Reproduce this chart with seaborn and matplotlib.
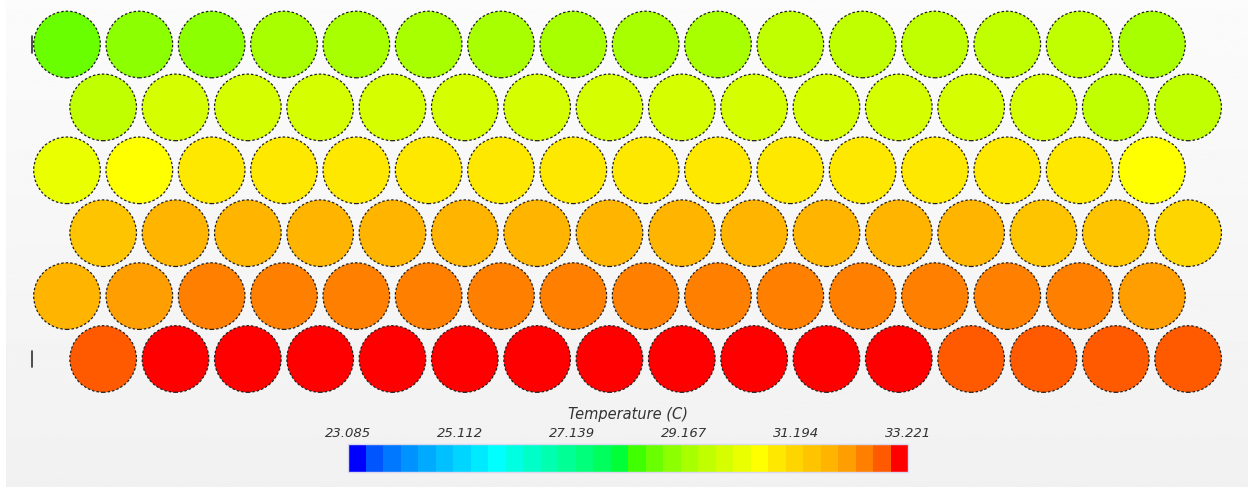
# temperature contour of a cell pack (16 cells x 6 rows) - rebuilt with seaborn
import matplotlib
matplotlib.use("Agg")
import matplotlib.pyplot as plt
import numpy as np
import pandas as pd
import seaborn as sns
from matplotlib.colors import ListedColormap, BoundaryNorm

# colour scale of the contour plot
t_min = 23.085
t_max = 33.221
n_bands = 32
tick_labels = ["23.085", "25.112", "27.139", "29.167", "31.194", "33.221"]

# cell temperatures (C), top row first, 16 cells per row
row1 = [28.63, 28.94, 28.94, 29.26, 29.26, 29.26, 29.26, 29.26, 29.26, 29.26, 29.58, 29.58, 29.58, 29.58, 29.58, 29.26]
row2 = [29.58, 29.89, 29.89, 29.89, 29.89, 29.89, 29.89, 29.89, 29.89, 29.89, 29.89, 29.89, 29.89, 29.89, 29.58, 29.58]
row3 = [30.21, 30.53, 30.84, 30.84, 30.84, 30.84, 30.84, 30.84, 30.84, 30.84, 30.84, 30.84, 30.84, 30.84, 30.84, 30.53]
row4 = [31.48, 31.79, 31.79, 31.79, 31.79, 31.79, 31.79, 31.79, 31.79, 31.79, 31.79, 31.79, 31.79, 31.48, 31.48, 31.16]
row5 = [31.79, 32.11, 32.43, 32.43, 32.43, 32.43, 32.43, 32.43, 32.43, 32.43, 32.43, 32.43, 32.43, 32.43, 32.43, 32.11]
row6 = [32.75, 33.06, 33.06, 33.06, 33.06, 33.06, 33.06, 33.06, 33.06, 33.06, 33.06, 33.06, 32.75, 32.75, 32.75, 32.75]
rows = [row1, row2, row3, row4, row5, row6]

# fluent-like banded rainbow
band_colors = ["#0000ff", "#0055ff", "#0078ff", "#0092ff", "#00aaff", "#00c0ff", "#00d5ff", "#00eaff",
               "#00ffff", "#00ffe2", "#00ffc8", "#00ffae", "#00ff95", "#00ff7a", "#00ff5c", "#00ff38",
               "#40ff00", "#6aff00", "#8cff00", "#a8ff00", "#c0ff00", "#d5ff00", "#eaff00", "#ffff00",
               "#ffe800", "#ffd500", "#ffc400", "#ffb400", "#ff9e00", "#ff8000", "#ff5a00", "#ff0000"]
cmap = ListedColormap(band_colors)
norm = BoundaryNorm(np.linspace(t_min, t_max, n_bands + 1), n_bands)

recs = []
for r, vals in enumerate(rows):
    for c, t in enumerate(vals):
        recs.append({"x": c + 0.5 * (r % 2), "y": r, "temp": t})
df = pd.DataFrame(recs)

sns.set_style("white")
fig = plt.figure(figsize=(12.52, 4.87), dpi=100)
fig.patch.set_facecolor("white")

# soft grey background
bg = fig.add_axes([6 / 1252, 0, 1242 / 1252, 1])
grad = np.linspace(0.985, 0.945, 200).reshape(-1, 1)
bg.imshow(grad, aspect="auto", cmap="gray", vmin=0, vmax=1, extent=(0, 1, 0, 1))
bg.set_axis_off()

ax = fig.add_axes([0, 0, 1, 1])
ax.patch.set_alpha(0)
pitch_x, pitch_y = 72.33, 62.9
ax.set_xlim(-67 / pitch_x, (1252 - 67) / pitch_x)
ax.set_ylim((487 - 44.5) / pitch_y, -44.5 / pitch_y)
ax.set_axis_off()

sns.scatterplot(data=df, x="x", y="y", hue="temp", palette=cmap, hue_norm=norm,
                s=2300, marker="o", edgecolor="#202020", linewidth=0.9,
                linestyle=(0, (2.0, 1.6)), legend=False, ax=ax)

# small mesh marks at the left edge
ax.plot([-0.49, -0.49], [-0.13, 0.13], color="#303030", lw=1.2)
ax.plot([-0.49, -0.49], [4.87, 5.13], color="#303030", lw=1.2)

# colour bar
cax = fig.add_axes([348 / 1252, 15 / 487, 560 / 1252, 28 / 487])
sm = matplotlib.cm.ScalarMappable(norm=norm, cmap=cmap)
cb = fig.colorbar(sm, cax=cax, orientation="horizontal")
cb.outline.set_edgecolor("#d8d8ee")
cb.outline.set_linewidth(1.0)
cax.xaxis.set_ticks_position("top")
cb.set_ticks(np.linspace(t_min, t_max, 6))
cb.set_ticklabels(tick_labels)
cax.minorticks_off()
cax.tick_params(axis="x", which="both", length=0, pad=3, labelsize=9.5, colors="#333333")
for lab in cax.get_xticklabels():
    lab.set_fontstyle("italic")
cax.set_title("Temperature (C)", fontsize=10.5, style="italic", color="#333333", pad=18)

plt.savefig("out.png", dpi=100)
